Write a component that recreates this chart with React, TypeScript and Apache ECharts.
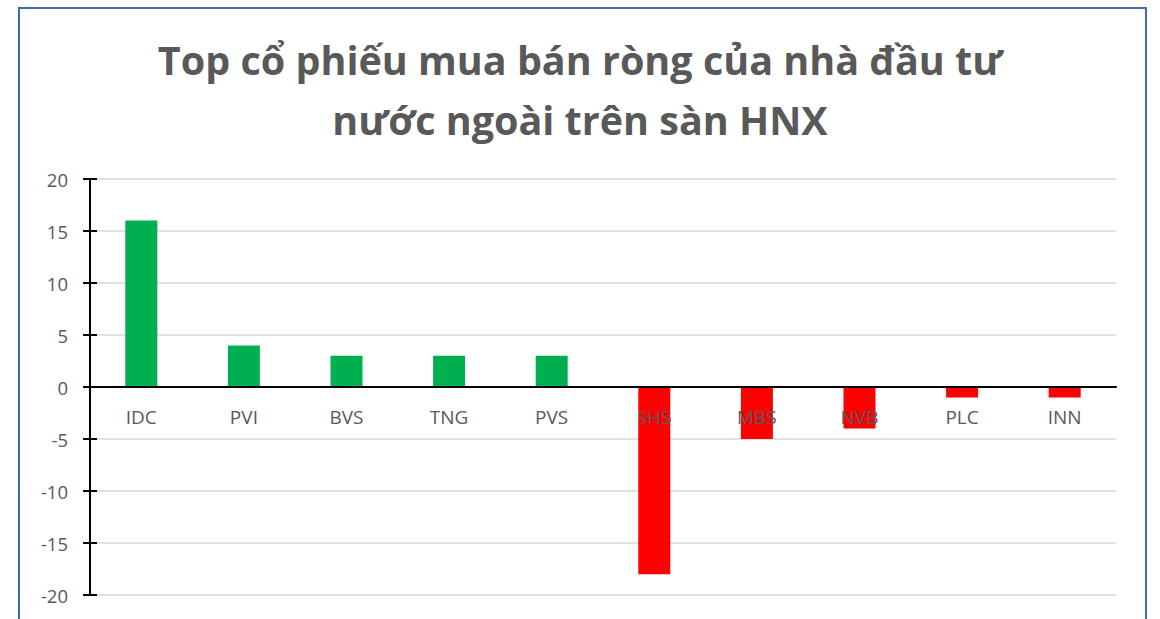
import React, { useEffect, useRef } from "react";
import * as echarts from "echarts";

const categories = ["IDC", "PVI", "BVS", "TNG", "PVS", "SHS", "MBS", "NVB", "PLC", "INN"];
const values = [16, 4, 3, 3, 3, -18, -5, -4, -1, -1];
const titleLines = ["Top cổ phiếu mua bán ròng của nhà đầu tư", "nước ngoài trên sàn HNX"];
const positiveColor = "#00B050";
const negativeColor = "#FF0000";

export default function App() {
  const ref = useRef<HTMLDivElement>(null);
  useEffect(() => {
    document.body.style.margin = "0";
    const chart = echarts.init(ref.current!, null, { renderer: "svg" });
    const font = "'Open Sans', 'Liberation Sans', sans-serif";
    const yBase = {
      type: "value",
      min: -20,
      max: 20,
      interval: 5,
    };
    const gridTop = 179;
    const gridBottom = 24;
    const plotH = 619 - gridTop - gridBottom;
    // position of zero inside the value range → offset of the category axis from the grid bottom
    const zeroOffset = -plotH * ((0 - yBase.min) / (yBase.max - yBase.min));
    chart.setOption({
      animation: false,
      backgroundColor: "#ffffff",
      title: {
        text: titleLines.join("\n"),
        left: "center",
        top: 25,
        textStyle: {
          fontFamily: font,
          fontSize: 39.5,
          fontWeight: "bold",
          color: "#595959",
          lineHeight: 60,
        },
      },
      graphic: [
        {
          type: "rect",
          shape: { x: 19, y: 8, width: 1127, height: 700 },
          style: { fill: "none", stroke: "#3F6CA8", lineWidth: 2 },
          silent: true,
        },
      ],
      grid: { left: 90, right: 44, top: gridTop, bottom: gridBottom, containLabel: false, outerBoundsMode: "none" },
      xAxis: {
        type: "category",
        data: categories,
        position: "bottom",
        offset: zeroOffset,
        axisLine: { onZero: false, lineStyle: { color: "#000000", width: 2 } },
        axisTick: { show: false },
        axisLabel: { color: "#595959", fontSize: 19, fontFamily: font, margin: 20 },
        z: 5,
      },
      yAxis: [
        {
          ...yBase,
          axisLine: { show: true, onZero: false, lineStyle: { color: "#000000", width: 2 } },
          axisTick: { show: true, length: 7, lineStyle: { color: "#000000", width: 2 } },
          axisLabel: { color: "#595959", fontSize: 18.5, fontFamily: font, margin: 22 },
          splitLine: { show: true, lineStyle: { color: "#D9D9D9", width: 1.5 } },
        },
        {
          ...yBase,
          position: "left",
          axisLine: { show: false, onZero: false },
          axisTick: { show: true, inside: true, length: 7, lineStyle: { color: "#000000", width: 2 } },
          axisLabel: { show: false },
          splitLine: { show: false },
        },
      ],
      series: [
        {
          type: "bar",
          yAxisIndex: 0,
          data: values.map((v) => ({
            value: v,
            itemStyle: { color: v >= 0 ? positiveColor : negativeColor },
          })),
          barWidth: 32,
          z: 1,
        },
      ],
    });
    return () => chart.dispose();
  }, []);
  return <div ref={ref} style={{ position: "fixed", left: 0, top: 0, width: 1160, height: 619 }} />;
}
